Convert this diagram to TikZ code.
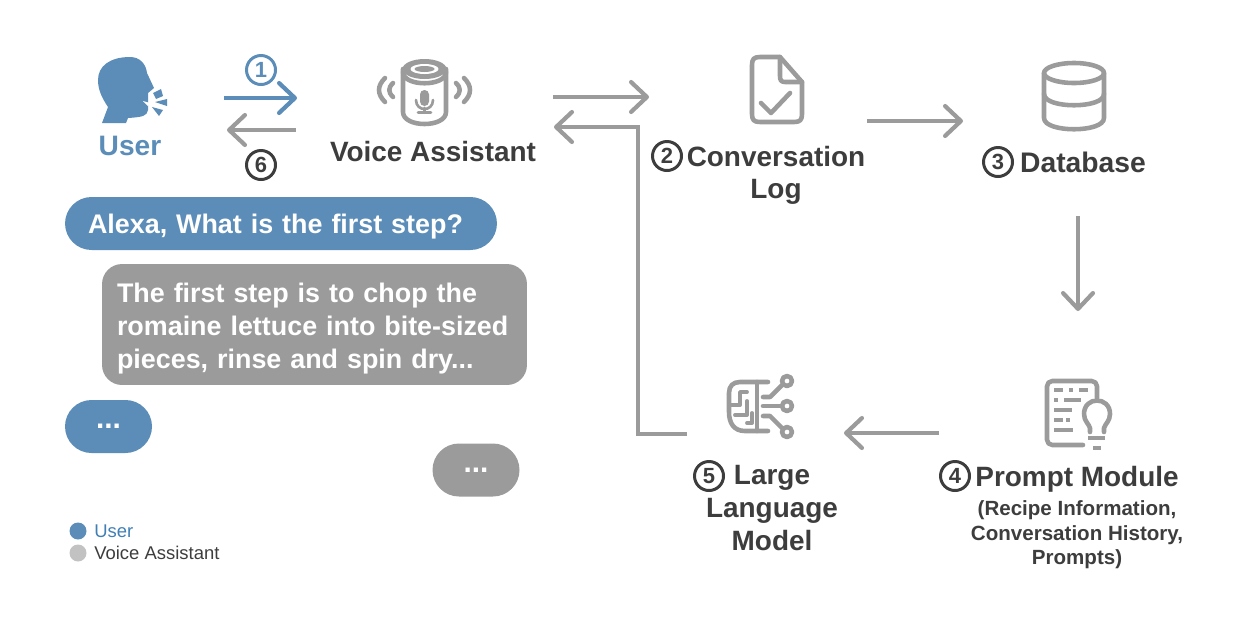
\documentclass[tikz,border=0pt]{standalone}
\usepackage{fontspec}
\setmainfont{Liberation Sans}
\usetikzlibrary{arrows.meta}
\definecolor{userblue}{HTML}{5B8DB8}
\definecolor{legendblue}{HTML}{3F7FB5}
\definecolor{iconsgray}{HTML}{9B9B9B}
\definecolor{legendgray}{HTML}{C2C2C2}
\definecolor{textdark}{HTML}{3D3D3D}
\tikzset{
    flow/.style={line width=2.4pt, iconsgray, -{Straight Barb[round, length=9pt, width=17pt]}},
    icon/.style={line width=2.6pt, iconsgray, line cap=round, line join=round},
    title/.style={font=\fontsize{15.9}{18.2}\selectfont\bfseries, text=textdark, anchor=base, align=center, inner sep=0pt},
    subtitle/.style={font=\fontsize{11.7}{14}\selectfont\bfseries, text=textdark, anchor=base, align=center, inner sep=0pt},
    number/.style={circle, draw=textdark, line width=1.7pt, text=textdark, minimum size=29*0.02cm, inner sep=0pt, font=\fontsize{12.5}{12.5}\selectfont\bfseries},
    bubble/.style={font=\fontsize{15.3}{18.7}\selectfont\bfseries, text=white, align=left},
    dotsbubble/.style={font=\fontsize{17}{17}\selectfont\bfseries, text=white, minimum width=87*0.02cm, minimum height=53*0.02cm, rounded corners=0.53cm, inner sep=0pt},
    legendtext/.style={font=\fontsize{10.5}{12}\selectfont, anchor=base west, inner sep=0pt},
}
\begin{document}
\begin{tikzpicture}[x=0.02cm, y=-0.02cm]
    \useasboundingbox (0, 0) rectangle (1246, 616);

    \coordinate (sayfrom) at (224, 98);
    \coordinate (sayto) at (297, 98);
    \coordinate (replyfrom) at (296, 130);
    \coordinate (replyto) at (227, 130);
    \coordinate (logfrom) at (553, 97);
    \coordinate (logto) at (649, 97);
    \coordinate (backfrom) at (687, 434);
    \coordinate (backbend) at (638, 434);
    \coordinate (backturn) at (638, 127);
    \coordinate (backto) at (554, 127);
    \coordinate (dbfrom) at (867, 121);
    \coordinate (dbto) at (963, 121);
    \coordinate (promptfrom) at (1078, 216);
    \coordinate (promptto) at (1078, 311);
    \coordinate (modelfrom) at (939, 433);
    \coordinate (modelto) at (844, 433);

    \draw[flow, userblue] (sayfrom) -- (sayto);
    \draw[flow] (replyfrom) -- (replyto);
    \draw[flow] (logfrom) -- (logto);
    \draw[flow] (backfrom) -- (backbend) -- (backturn) -- (backto);
    \draw[flow] (dbfrom) -- (dbto);
    \draw[flow] (promptfrom) -- (promptto);
    \draw[flow] (modelfrom) -- (modelto);

    \fill[userblue] (102, 123) -- (108, 107) .. controls (102, 98) and (98, 90) .. (98, 80)
        .. controls (98, 66) and (110, 57) .. (130, 57) .. controls (140, 57) and (146, 64) .. (147, 73)
        -- (154, 88) -- (148, 93) -- (148, 110) .. controls (147, 116) and (143, 117) .. (128, 118)
        -- (126, 123) -- cycle;
    \fill[white] (143, 101) -- (150, 103) -- (148, 106) -- cycle;
    \fill[userblue] (153, 93) -- (161, 89) -- (163, 96) -- (156, 99) -- cycle;
    \fill[userblue] (155, 102) -- (167, 99) -- (167, 106) -- cycle;
    \fill[userblue] (152, 107) -- (163, 110) -- (159, 116) -- cycle;
    \node[font=\fontsize{16}{18}\selectfont\bfseries, text=userblue, anchor=base, inner sep=0pt] (usertitle) at (130, 155) {User};

    \draw[icon] (403, 69) -- (403, 112) .. controls (403, 128) and (446, 128) .. (446, 112) -- (446, 69);
    \draw[icon] (403, 72) .. controls (403, 87) and (446, 87) .. (446, 72);
    \fill[iconsgray] (424.5, 69) ellipse [x radius=22, y radius=10];
    \fill[white] (424.5, 69) ellipse [x radius=14, y radius=5];
    \fill[iconsgray] (424.5, 69) ellipse [x radius=10, y radius=3];
    \fill[iconsgray, rounded corners=2.5pt] (420, 90) rectangle (429, 106);
    \draw[icon, line width=1.5pt] (416, 100) .. controls (416, 112) and (433, 112) .. (433, 100);
    \draw[icon, line width=1.5pt] (424.5, 108) -- (424.5, 112) (418, 112.5) -- (431, 112.5);
    \draw[icon] (385, 78) .. controls (377, 86) and (377, 94) .. (385, 102);
    \draw[icon] (393, 83) .. controls (388, 88) and (388, 92) .. (393, 97);
    \draw[icon] (464, 78) .. controls (472, 86) and (472, 94) .. (464, 102);
    \draw[icon] (456, 83) .. controls (461, 88) and (461, 92) .. (456, 97);
    \node[title] (assistanttitle) at (433, 161) {Voice Assistant};

    \draw[icon] (780, 57) -- (760, 57) .. controls (754, 57) and (752, 59) .. (752, 65) -- (752, 114)
        .. controls (752, 120) and (754, 122) .. (760, 122) -- (794, 122) .. controls (800, 122) and (802, 120) .. (802, 114)
        -- (802, 82) -- cycle;
    \draw[icon] (780, 57) -- (780, 76) .. controls (780, 80) and (781, 82) .. (785, 82) -- (802, 82);
    \draw[icon] (761, 103) -- (771, 113) -- (790, 93);
    \node[title] (logtitle) at (776, 198) {Conversation\\Log};

    \draw[icon] (1074, 73) ellipse [x radius=30, y radius=10];
    \draw[icon] (1044, 73) -- (1044, 118) .. controls (1044, 133) and (1104, 133) .. (1104, 118) -- (1104, 73);
    \draw[icon] (1044, 94) .. controls (1044, 109) and (1104, 109) .. (1104, 94);
    \node[title, font=\fontsize{16.1}{18}\selectfont\bfseries] (dbtitle) at (1083, 172) {Database};

    \draw[icon, rounded corners=3pt] (1097, 398) -- (1097, 381) -- (1047, 381) -- (1047, 445) -- (1083, 445);
    \draw[icon, line width=2.4pt, line cap=butt] (1054, 390) -- (1063, 390) (1069, 390) -- (1073, 390) (1079, 390) -- (1088, 390)
        (1054, 400) -- (1058, 400) (1064, 400) -- (1081, 400)
        (1054, 410) -- (1072, 410)
        (1054, 420) -- (1063, 420) (1066, 420) -- (1070, 420)
        (1054, 430) -- (1073, 430);
    \draw[icon] (1090, 432) -- (1090, 428) .. controls (1089, 424) and (1084, 421) .. (1084, 414)
        .. controls (1084, 396) and (1110, 396) .. (1110, 414) .. controls (1110, 421) and (1105, 424) .. (1104, 428) -- (1104, 432);
    \draw[icon, line width=2.8pt, line cap=butt] (1088, 438) -- (1105, 438) (1093, 448) -- (1101, 448);
    \node[title] (prompttitle) at (1077, 486) {Prompt Module};
    \node[subtitle] (recipeline) at (1077, 515) {(Recipe Information,};
    \node[subtitle] (historyline) at (1077, 540) {Conversation History,};
    \node[subtitle] (promptsline) at (1077, 564) {Prompts)};

    \draw[icon] (768, 382) -- (757, 382) -- (740, 382) .. controls (733, 382) and (729, 386) .. (729, 393) -- (729, 412)
        .. controls (729, 422) and (733, 431) .. (745, 431) -- (768, 431);
    \draw[icon] (757, 382) -- (757, 431);
    \draw[icon, line width=2.2pt] (730, 405) -- (740, 405) -- (740, 392) -- (747, 392);
    \draw[icon, line width=2.2pt] (735, 415) -- (747, 415) -- (747, 401);
    \draw[icon, line width=2.2pt] (747, 423) -- (752, 423) -- (752, 413);
    \draw[icon] (763, 397) -- (770, 397) -- (782, 385);
    \draw[icon] (763, 406) -- (782, 406);
    \draw[icon] (763, 416) -- (770, 416) -- (782, 428);
    \draw[icon] (787, 381) circle [radius=5];
    \draw[icon] (787, 406) circle [radius=5];
    \draw[icon] (787, 432) circle [radius=5];
    \node[title] (modeltitle) at (772, 484) {Large};
    \node[title] (languagetitle) at (772, 517) {Language};
    \node[title] (modellast) at (772, 550) {Model};

    \node[number, draw=userblue, text=userblue] (numone) at (261, 70) {1};
    \node[number] (numsix) at (261, 165) {6};
    \node[number] (numtwo) at (667, 156) {2};
    \node[number] (numthree) at (998, 162) {3};
    \node[number] (numfour) at (955, 476) {4};
    \node[number] (numfive) at (709, 476) {5};

    \node[bubble, text depth=0pt, fill=userblue, text width=7.72cm, inner xsep=0.46cm, minimum height=1.06cm, rounded corners=0.53cm] (askbubble) at (281, 223.5) {Alexa, What is the first step?};
    \node[fill=iconsgray, minimum width=8.5cm, minimum height=2.42cm, rounded corners=0.4cm] (answerbubble) at (314.5, 324.5) {};
    \node[bubble, text width=7.9cm, inner xsep=0pt] (answertext) at ([yshift=-0.08cm]answerbubble.center) {The first step is to chop the\\romaine lettuce into bite-sized\\pieces, rinse and spin dry...};
    \node[dotsbubble, fill=userblue] (askmore) at (108.5, 426.5) {...};
    \node[dotsbubble, fill=iconsgray] (answermore) at (476, 470) {...};

    \fill[userblue] (78, 531) circle [radius=8.5];
    \fill[legendgray] (78, 553) circle [radius=8.5];
    \node[legendtext, text=legendblue] (legenduser) at (94, 537) {User};
    \node[legendtext, text=textdark] (legendassistant) at (94, 559) {Voice Assistant};
\end{tikzpicture}
\end{document}
